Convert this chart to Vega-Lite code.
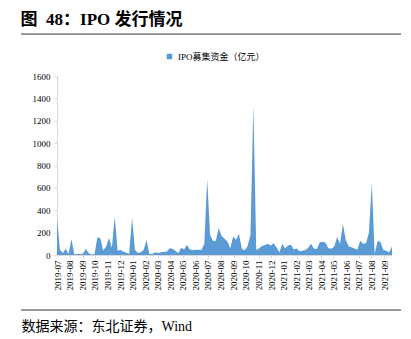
{
  "$schema": "https://vega.github.io/schema/vega-lite/v6.json",
  "background": "white",
  "padding": {"left": 20, "right": 11, "top": 10, "bottom": 4},
  "width": 335,
  "height": 179,
  "title": {"text": "图\u200248：IPO 发行情况", "anchor": "start", "frame": "bounds", "fontSize": 17, "fontWeight": "bold", "color": "#000000", "offset": 5, "font": "Liberation Serif, Noto Sans CJK SC"},
  "config": {
    "view": {"stroke": null},
    "font": "Liberation Serif, Noto Sans CJK SC",
    "axis": {"labelFont": "Liberation Serif, Noto Sans CJK SC", "labelColor": "#000000", "labelFontSize": 9, "grid": false, "domainColor": "#d9d9d9", "tickColor": "#d9d9d9"},
    "legend": {"labelFont": "Liberation Serif, Noto Sans CJK SC"}
  },
  "layer": [
    {
      "data": {"values": [
        {"date": "2019-07-01", "value": 336},
        {"date": "2019-07-08", "value": 50},
        {"date": "2019-07-15", "value": 15},
        {"date": "2019-07-22", "value": 55},
        {"date": "2019-07-29", "value": 10},
        {"date": "2019-08-05", "value": 145},
        {"date": "2019-08-12", "value": 5},
        {"date": "2019-08-19", "value": 10},
        {"date": "2019-08-26", "value": 8},
        {"date": "2019-09-02", "value": 12},
        {"date": "2019-09-09", "value": 55},
        {"date": "2019-09-16", "value": 15},
        {"date": "2019-09-23", "value": 5},
        {"date": "2019-09-30", "value": 8},
        {"date": "2019-10-07", "value": 158},
        {"date": "2019-10-14", "value": 150},
        {"date": "2019-10-21", "value": 40},
        {"date": "2019-10-28", "value": 75},
        {"date": "2019-11-04", "value": 155},
        {"date": "2019-11-11", "value": 65},
        {"date": "2019-11-18", "value": 345},
        {"date": "2019-11-25", "value": 40},
        {"date": "2019-12-02", "value": 45},
        {"date": "2019-12-09", "value": 28},
        {"date": "2019-12-16", "value": 20},
        {"date": "2019-12-23", "value": 12},
        {"date": "2019-12-30", "value": 330},
        {"date": "2020-01-06", "value": 48},
        {"date": "2020-01-13", "value": 18},
        {"date": "2020-01-20", "value": 25},
        {"date": "2020-01-27", "value": 45},
        {"date": "2020-02-03", "value": 135},
        {"date": "2020-02-10", "value": 10},
        {"date": "2020-02-17", "value": 8},
        {"date": "2020-02-24", "value": 25},
        {"date": "2020-03-02", "value": 18},
        {"date": "2020-03-09", "value": 25},
        {"date": "2020-03-16", "value": 28},
        {"date": "2020-03-23", "value": 30},
        {"date": "2020-03-30", "value": 60},
        {"date": "2020-04-06", "value": 55},
        {"date": "2020-04-13", "value": 35},
        {"date": "2020-04-20", "value": 18},
        {"date": "2020-04-27", "value": 65},
        {"date": "2020-05-04", "value": 50},
        {"date": "2020-05-11", "value": 90},
        {"date": "2020-05-18", "value": 50},
        {"date": "2020-05-25", "value": 45},
        {"date": "2020-06-01", "value": 48},
        {"date": "2020-06-08", "value": 48},
        {"date": "2020-06-15", "value": 45},
        {"date": "2020-06-22", "value": 100},
        {"date": "2020-06-29", "value": 680},
        {"date": "2020-07-06", "value": 182},
        {"date": "2020-07-13", "value": 125},
        {"date": "2020-07-20", "value": 128},
        {"date": "2020-07-27", "value": 241},
        {"date": "2020-08-03", "value": 170},
        {"date": "2020-08-10", "value": 145},
        {"date": "2020-08-17", "value": 120},
        {"date": "2020-08-24", "value": 60},
        {"date": "2020-08-31", "value": 165},
        {"date": "2020-09-07", "value": 137},
        {"date": "2020-09-14", "value": 190},
        {"date": "2020-09-21", "value": 55},
        {"date": "2020-09-28", "value": 42},
        {"date": "2020-10-05", "value": 80},
        {"date": "2020-10-12", "value": 182},
        {"date": "2020-10-19", "value": 1340},
        {"date": "2020-10-26", "value": 45},
        {"date": "2020-11-02", "value": 60},
        {"date": "2020-11-09", "value": 80},
        {"date": "2020-11-16", "value": 90},
        {"date": "2020-11-23", "value": 100},
        {"date": "2020-11-30", "value": 85},
        {"date": "2020-12-07", "value": 105},
        {"date": "2020-12-14", "value": 70},
        {"date": "2020-12-21", "value": 25},
        {"date": "2020-12-28", "value": 100},
        {"date": "2021-01-04", "value": 60},
        {"date": "2021-01-11", "value": 85},
        {"date": "2021-01-18", "value": 92},
        {"date": "2021-01-25", "value": 50},
        {"date": "2021-02-01", "value": 58},
        {"date": "2021-02-08", "value": 33},
        {"date": "2021-02-15", "value": 38},
        {"date": "2021-02-22", "value": 45},
        {"date": "2021-03-01", "value": 65},
        {"date": "2021-03-08", "value": 101},
        {"date": "2021-03-15", "value": 56},
        {"date": "2021-03-22", "value": 54},
        {"date": "2021-03-29", "value": 115},
        {"date": "2021-04-05", "value": 118},
        {"date": "2021-04-12", "value": 110},
        {"date": "2021-04-19", "value": 60},
        {"date": "2021-04-26", "value": 55},
        {"date": "2021-05-03", "value": 75},
        {"date": "2021-05-10", "value": 160},
        {"date": "2021-05-17", "value": 100},
        {"date": "2021-05-24", "value": 277},
        {"date": "2021-05-31", "value": 135},
        {"date": "2021-06-07", "value": 78},
        {"date": "2021-06-14", "value": 70},
        {"date": "2021-06-21", "value": 58},
        {"date": "2021-06-28", "value": 48},
        {"date": "2021-07-05", "value": 128},
        {"date": "2021-07-12", "value": 100},
        {"date": "2021-07-19", "value": 105},
        {"date": "2021-07-26", "value": 200},
        {"date": "2021-08-02", "value": 644},
        {"date": "2021-08-09", "value": 10},
        {"date": "2021-08-16", "value": 125},
        {"date": "2021-08-23", "value": 118},
        {"date": "2021-08-30", "value": 45},
        {"date": "2021-09-06", "value": 39},
        {"date": "2021-09-13", "value": 22},
        {"date": "2021-09-20", "value": 77}
      ]},
      "mark": {"type": "area", "interpolate": "linear"},
      "encoding": {
        "x": {
          "field": "date", "type": "temporal",
          "title": "数据来源：东北证券，Wind",
          "scale": {"type": "utc", "domain": [{"year": 2019, "month": 7, "date": 1, "utc": true}, {"year": 2021, "month": 9, "date": 20, "utc": true}]},
          "axis": {"format": "%Y-%m", "tickCount": {"interval": "month", "step": 1}, "labelAngle": -90, "labelOverlap": false, "labelFlush": false, "tickSize": 3, "labelPadding": 2,
                   "titleX": -36, "titleY": 71, "titleAlign": "left", "titleAnchor": "start", "titleBaseline": "middle", "titleFontSize": 14, "titleFontWeight": "normal", "titleColor": "#000000", "titleFont": "Liberation Serif, Noto Sans CJK SC"}
        },
        "y": {
          "field": "value", "type": "quantitative", "title": null,
          "scale": {"domain": [0, 1600], "nice": false},
          "axis": {"format": "d", "values": [0, 200, 400, 600, 800, 1000, 1200, 1400, 1600], "labelOverlap": false, "tickSize": 3, "labelPadding": 4}
        },
        "color": {
          "datum": "IPO募集资金（亿元）",
          "scale": {"range": ["#5b9bd5"]},
          "legend": {"title": null, "orient": "none", "legendX": 108, "legendY": -24, "direction": "horizontal", "symbolType": "square", "symbolSize": 30, "labelFontSize": 9, "labelColor": "#000000"}
        }
      }
    },
    {
      "data": {"values": [{"k": 1}]},
      "mark": {"type": "rule", "color": "#333333", "strokeWidth": 1, "clip": false},
      "encoding": {
        "x": {"datum": {"year": 2019, "month": 4, "date": 5, "utc": true}, "type": "temporal", "title": "数据来源：东北证券，Wind"},
        "x2": {"datum": {"year": 2021, "month": 10, "date": 12, "utc": true}},
        "y": {"datum": 1975, "type": "quantitative", "title": null, "axis": {"format": "d", "values": [0, 200, 400, 600, 800, 1000, 1200, 1400, 1600], "labelOverlap": false, "tickSize": 3, "labelPadding": 4}}
      }
    },
    {
      "data": {"values": [{"k": 1}]},
      "mark": {"type": "rule", "color": "#333333", "strokeWidth": 1, "clip": false},
      "encoding": {
        "x": {"datum": {"year": 2019, "month": 4, "date": 5, "utc": true}, "type": "temporal", "title": "数据来源：东北证券，Wind"},
        "x2": {"datum": {"year": 2021, "month": 10, "date": 12, "utc": true}},
        "y": {"datum": -492, "type": "quantitative", "title": null, "axis": {"format": "d", "values": [0, 200, 400, 600, 800, 1000, 1200, 1400, 1600], "labelOverlap": false, "tickSize": 3, "labelPadding": 4}}
      }
    }
  ]
}
